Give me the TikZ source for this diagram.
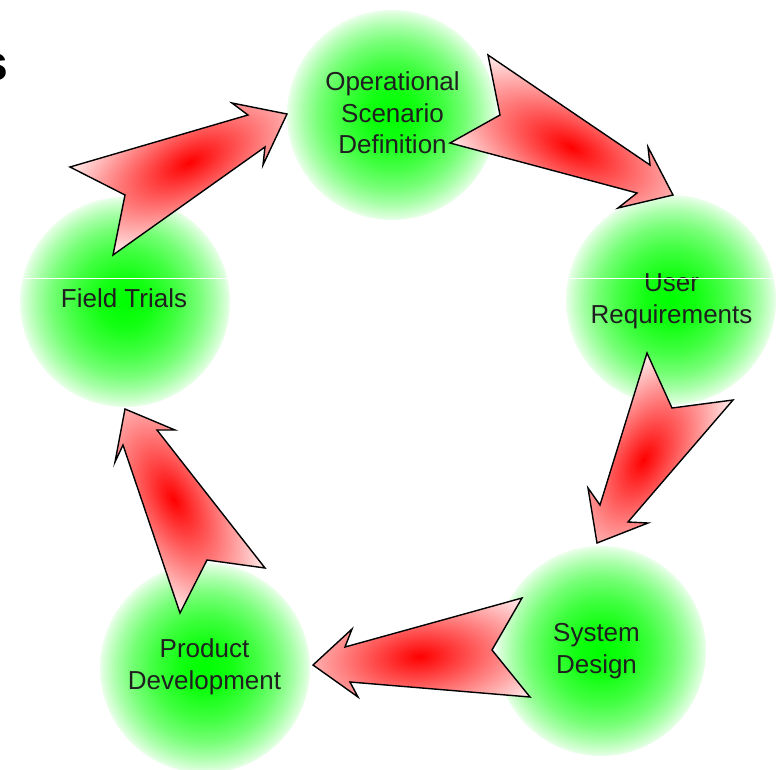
\documentclass[tikz,border=0pt]{standalone}
\usepackage{fontspec}
\setmainfont{Liberation Sans}
\pgfdeclareradialshading{gball}{\pgfpoint{0bp}{0bp}}{color(0bp)=(green); color(6bp)=(green!93); color(12.5bp)=(green!74); color(17.5bp)=(green!54); color(21.25bp)=(green!34); color(24bp)=(green!16); color(25bp)=(green!8); color(50bp)=(white)}
\begin{document}
\begin{tikzpicture}[x=1pt,y=1pt]
\useasboundingbox (0,-769) rectangle (777,0);
\tikzset{
  ball/.style={circle, minimum size=210pt, inner sep=0pt, shading=gball},
  lbl/.style={align=center, inner sep=0pt, text=black!88, font=\fontsize{26}{31.5}\selectfont},
  arrowline/.style={draw=black, line width=1.4pt, line join=miter},
  glow/.style={inner color=red, outer color=red!12}
}
% circles
\node[ball] (c1) at (392,-115) {};
\node[ball] (c2) at (671,-300) {};
\node[ball] (c3) at (601,-651) {};
\node[ball] (c4) at (205,-668) {};
\node[ball] (c5) at (125,-302) {};
% labels
\node[lbl] (t1) at (392.5,-113) {Operational\\Scenario\\Definition};
\node[lbl] (t2) at (671.5,-301) {User\\Requirements};
\node[lbl] (t3) at (596.5,-651) {System\\Design};
\node[lbl] (t4) at (204.5,-667) {Product\\Development};
\node[lbl] (t5) at (124,-298.5) {Field Trials};
% thin white line artifact
\draw[white, line width=0.8pt] (0,-278) -- (777,-278);
% fragment of title
\node[anchor=base east, inner sep=0pt, font=\fontsize{50}{60}\selectfont\bfseries] (s) at (9,-80) {s};
% arrow 1: Field Trials -> Operational
\begin{scope}
  \clip (287,-114) -- (263,-165) -- (265,-147) -- (113,-255) -- (125,-195) -- (70,-167) -- (248,-115) -- (232,-103) -- cycle;
  \fill[red!12] (0,-769) rectangle (777,0);
  \shade[glow, transform canvas={shift={(189,-162.5)}, rotate=26.3}] (0,0) ellipse (140 and 68);
\end{scope}
\draw[arrowline] (287,-114) -- (263,-165) -- (265,-147) -- (113,-255) -- (125,-195) -- (70,-167) -- (248,-115) -- (232,-103) -- cycle;
% arrow 2: Operational -> User Requirements
\begin{scope}
  \clip (673,-195) -- (648,-147) -- (650,-165) -- (488,-55) -- (500,-115) -- (450,-143) -- (637,-193) -- (618,-208) -- cycle;
  \fill[red!12] (0,-769) rectangle (777,0);
  \shade[glow, transform canvas={shift={(571,-147)}, rotate=-25.2}] (0,0) ellipse (145 and 68);
\end{scope}
\draw[arrowline] (673,-195) -- (648,-147) -- (650,-165) -- (488,-55) -- (500,-115) -- (450,-143) -- (637,-193) -- (618,-208) -- cycle;
% arrow 3: User Requirements -> System Design
\begin{scope}
  \clip (597,-543) -- (588,-488) -- (600,-505) -- (647,-353) -- (672,-408) -- (733,-400) -- (628,-522) -- (648,-523) -- cycle;
  \fill[red!12] (0,-769) rectangle (777,0);
  \shade[glow, transform canvas={shift={(643.5,-460)}, rotate=240.7}] (0,0) ellipse (122 and 68);
\end{scope}
\draw[arrowline] (597,-543) -- (588,-488) -- (600,-505) -- (647,-353) -- (672,-408) -- (733,-400) -- (628,-522) -- (648,-523) -- cycle;
% arrow 4: System Design -> Product Development
\begin{scope}
  \clip (313,-665) -- (352,-629) -- (345,-647) -- (522,-598) -- (492,-650) -- (530,-697) -- (350,-682) -- (358,-697) -- cycle;
  \fill[red!12] (0,-769) rectangle (777,0);
  \shade[glow, transform canvas={shift={(419.5,-656.5)}, rotate=184.6}] (0,0) ellipse (137 and 68);
\end{scope}
\draw[arrowline] (313,-665) -- (352,-629) -- (345,-647) -- (522,-598) -- (492,-650) -- (530,-697) -- (350,-682) -- (358,-697) -- cycle;
% arrow 5: Product Development -> Field Trials
\begin{scope}
  \clip (125,-409) -- (175,-430) -- (157,-430) -- (265,-568) -- (207,-560) -- (180,-613) -- (123,-445) -- (115,-462) -- cycle;
  \fill[red!12] (0,-769) rectangle (777,0);
  \shade[glow, transform canvas={shift={(173.5,-499.5)}, rotate=118.2}] (0,0) ellipse (132 and 68);
\end{scope}
\draw[arrowline] (125,-409) -- (175,-430) -- (157,-430) -- (265,-568) -- (207,-560) -- (180,-613) -- (123,-445) -- (115,-462) -- cycle;
\end{tikzpicture}
\end{document}
